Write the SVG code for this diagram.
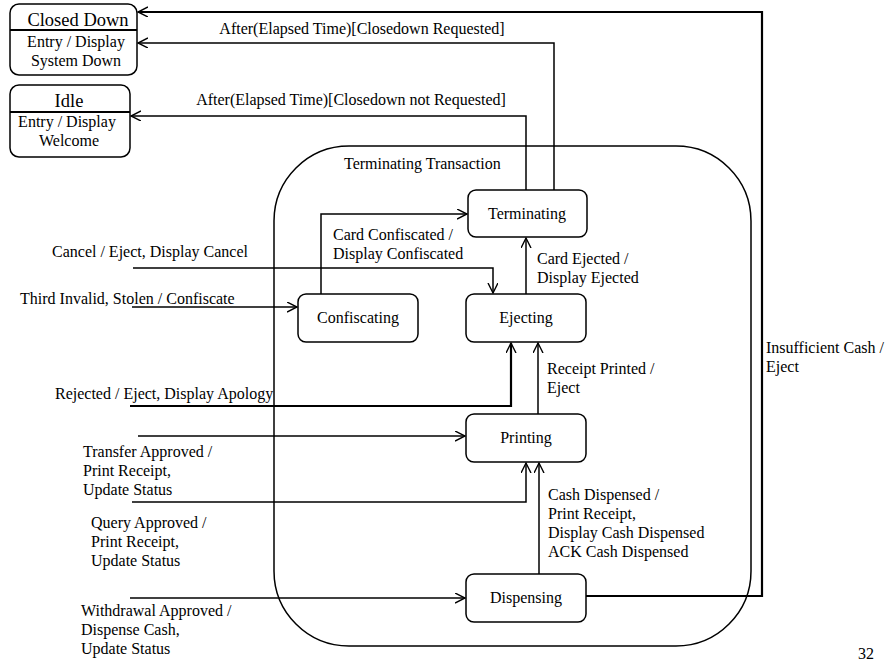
<svg xmlns="http://www.w3.org/2000/svg" width="887" height="662" viewBox="0 0 887 662">
  <defs>
    <marker id="open-arrow" markerUnits="userSpaceOnUse" markerWidth="12" markerHeight="12" refX="10" refY="5" orient="auto">
      <path d="M0,0 L10,5 L0,10" fill="none" stroke="#000" stroke-width="1.4"/>
    </marker>
    <style>
      text { font-family: "Liberation Serif", "Times New Roman", serif; fill: #000; }
      .lbl { font-size: 16px; }
      .name { font-size: 16px; text-anchor: middle; }
      .title { font-size: 18.5px; text-anchor: middle; }
      .state { fill: #fff; stroke: #000; stroke-width: 1.5; }
      .rule { stroke: #000; stroke-width: 2.2; }
      .edge { fill: none; stroke: #000; stroke-width: 1.5; marker-end: url(#open-arrow); }
      .thick { stroke-width: 2.2; }
    </style>
  </defs>
  <rect width="887" height="662" fill="#fff"/>

  <!-- composite state -->
  <g id="terminating-transaction">
    <rect x="274" y="146" width="477" height="500" rx="75" ry="75" fill="none" stroke="#000" stroke-width="1.5"/>
    <text class="lbl" x="344" y="169">Terminating Transaction</text>
  </g>

  <!-- transitions -->
  <g id="connectors">
    <path class="edge thick" d="M586,596 H762 V12 H138"/>
    <path class="edge" d="M554,190 V43 H138"/>
    <path class="edge" d="M526,190 V116 H131"/>
    <path class="edge" d="M321,294 V214 H467"/>
    <path class="edge" d="M133,268 H493 V293"/>
    <path class="edge" d="M526,294 V238"/>
    <path class="edge" d="M132,307 H297"/>
    <path class="edge thick" d="M130,406 H511 V343"/>
    <path class="edge" d="M538,414 V343"/>
    <path class="edge" d="M138,436 H465"/>
    <path class="edge" d="M132,502 H526 V463"/>
    <path class="edge" d="M539,574 V463"/>
    <path class="edge" d="M130,598 H465"/>

    <text class="lbl" x="362" y="34" text-anchor="middle">After(Elapsed Time)[Closedown Requested]</text>
    <text class="lbl" x="351" y="105" text-anchor="middle">After(Elapsed Time)[Closedown not Requested]</text>
    <text class="lbl" x="333" y="240">Card Confiscated /</text>
    <text class="lbl" x="333" y="259">Display Confiscated</text>
    <text class="lbl" x="52" y="257">Cancel / Eject, Display Cancel</text>
    <text class="lbl" x="537" y="264">Card Ejected /</text>
    <text class="lbl" x="537" y="283">Display Ejected</text>
    <text class="lbl" x="20" y="304">Third Invalid, Stolen / Confiscate</text>
    <text class="lbl" x="55" y="399">Rejected / Eject, Display Apology</text>
    <text class="lbl" x="547" y="374">Receipt Printed /</text>
    <text class="lbl" x="547" y="393">Eject</text>
    <text class="lbl" x="83" y="457">Transfer Approved /</text>
    <text class="lbl" x="83" y="476">Print Receipt,</text>
    <text class="lbl" x="83" y="495">Update Status</text>
    <text class="lbl" x="91" y="528">Query Approved /</text>
    <text class="lbl" x="91" y="547">Print Receipt,</text>
    <text class="lbl" x="91" y="566">Update Status</text>
    <text class="lbl" x="548" y="500">Cash Dispensed /</text>
    <text class="lbl" x="548" y="519">Print Receipt,</text>
    <text class="lbl" x="548" y="538">Display Cash Dispensed</text>
    <text class="lbl" x="548" y="557">ACK Cash Dispensed</text>
    <text class="lbl" x="81" y="616">Withdrawal Approved /</text>
    <text class="lbl" x="81" y="635">Dispense Cash,</text>
    <text class="lbl" x="81" y="654">Update Status</text>
    <text class="lbl" x="766" y="353">Insufficient Cash /</text>
    <text class="lbl" x="766" y="372">Eject</text>
  </g>

  <!-- states -->
  <g id="closed-down">
    <rect class="state" x="10" y="4" width="127" height="71" rx="9"/>
    <line class="rule" x1="10" y1="30" x2="137" y2="30"/>
    <text class="title" x="78" y="26">Closed Down</text>
    <text class="name" x="76" y="47">Entry / Display</text>
    <text class="name" x="76" y="66">System Down</text>
  </g>

  <g id="idle">
    <rect class="state" x="10" y="85" width="120" height="72" rx="9"/>
    <line class="rule" x1="10" y1="112" x2="130" y2="112"/>
    <text class="title" x="69" y="107">Idle</text>
    <text class="name" x="67" y="127">Entry / Display</text>
    <text class="name" x="69" y="146">Welcome</text>
  </g>

  <g id="terminating">
    <rect class="state" x="468" y="190" width="119" height="47" rx="8"/>
    <text class="name" x="527" y="219">Terminating</text>
  </g>

  <g id="confiscating">
    <rect class="state" x="298" y="294" width="120" height="48" rx="8"/>
    <text class="name" x="358" y="323">Confiscating</text>
  </g>

  <g id="ejecting">
    <rect class="state" x="466" y="294" width="120" height="48" rx="8"/>
    <text class="name" x="526" y="323">Ejecting</text>
  </g>

  <g id="printing">
    <rect class="state" x="466" y="414" width="120" height="48" rx="8"/>
    <text class="name" x="526" y="443">Printing</text>
  </g>

  <g id="dispensing">
    <rect class="state" x="466" y="574" width="120" height="48" rx="8"/>
    <text class="name" x="526" y="603">Dispensing</text>
  </g>

  <text class="lbl" x="858" y="659">32</text>
</svg>
